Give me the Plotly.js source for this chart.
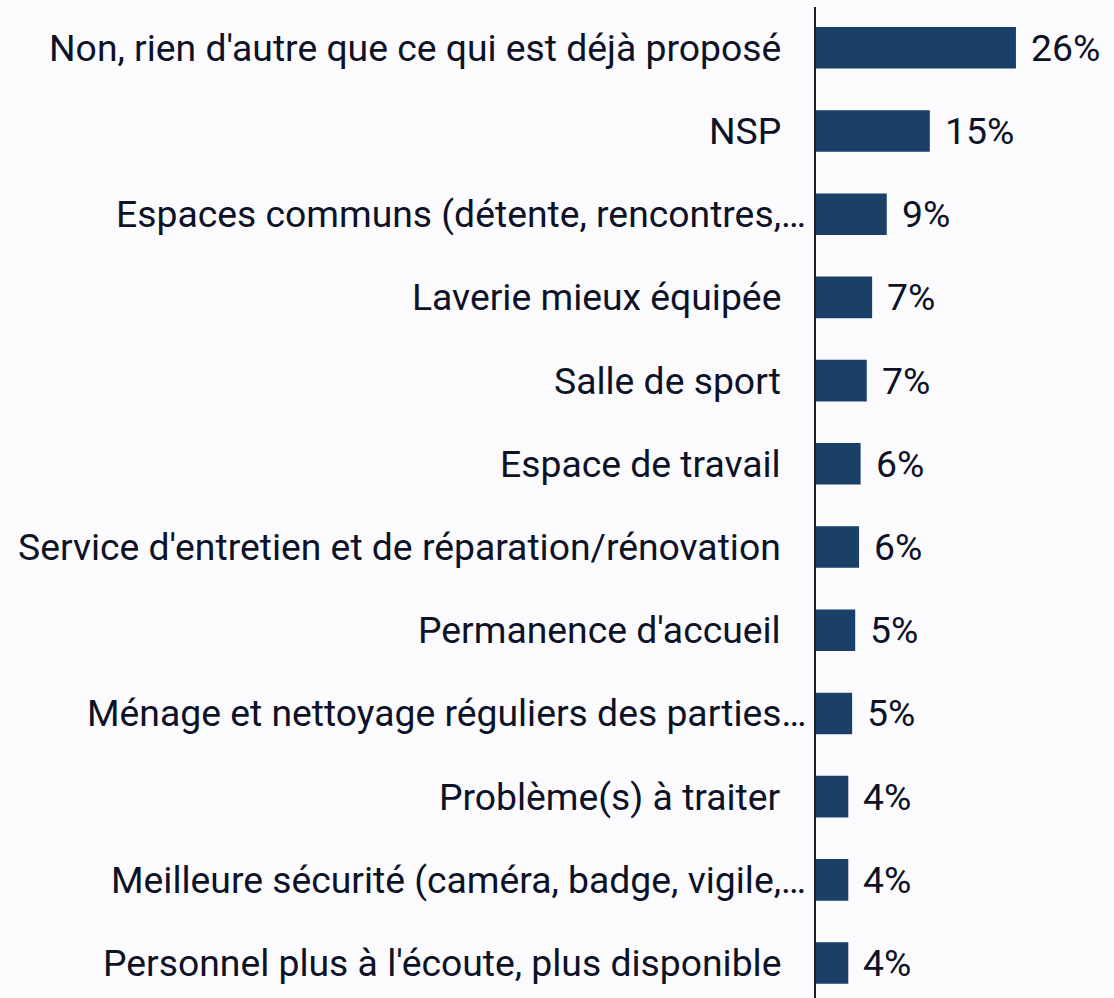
<!DOCTYPE html>
<html>
<head>
<meta charset="utf-8">
<script src="https://cdn.plot.ly/plotly-3.0.1.min.js"></script>
<style>
  html, body { margin: 0; padding: 0; background: #fbfbfe; }
  #chart { width: 1114px; height: 998px; }
</style>
</head>
<body>
<div id="chart"></div>
<script>
const categories = [
    "Non, rien d'autre que ce qui est déjà proposé",
    "NSP",
    "Espaces communs (détente, rencontres,…",
    "Laverie mieux équipée",
    "Salle de sport",
    "Espace de travail",
    "Service d'entretien et de réparation/rénovation",
    "Permanence d'accueil",
    "Ménage et nettoyage réguliers des parties…",
    "Problème(s) à traiter",
    "Meilleure sécurité (caméra, badge, vigile,…",
    "Personnel plus à l'écoute, plus disponible"
];
const values = [26.0, 14.8, 9.2, 7.3, 6.6, 5.8, 5.6, 5.1, 4.7, 4.2, 4.2, 4.2];
const valueLabels = ['26%', '15%', '9%', '7%', '7%', '6%', '6%', '5%', '5%', '4%', '4%', '4%'];

const textColor = '#0d1226';
const barColor = '#1b4068';
const fontSize = 37.3;

const trace = {
    type: 'bar',
    orientation: 'h',
    y: categories,
    x: values,
    marker: {color: barColor},
    hoverinfo: 'skip'
};

// value labels right of each bar
const valueAnn = values.map((v, i) => ({
    x: v,
    y: categories[i],
    text: valueLabels[i],
    xanchor: 'left',
    yanchor: 'middle',
    xshift: 13,
    showarrow: false,
    font: {family: 'Roboto', size: fontSize, color: textColor}
}));

// category labels: truncated ones (ending with an ellipsis) sit closer to the axis
const catAnn = categories.map(c => ({
    x: 0,
    y: c,
    text: c,
    xanchor: 'right',
    yanchor: 'middle',
    xshift: c.endsWith('…') ? -8 : -33,
    showarrow: false,
    font: {family: 'Roboto', size: fontSize, color: textColor}
}));

const layout = {
    width: 1114,
    height: 998,
    margin: {l: 816, r: 0, t: 7, b: 0},
    paper_bgcolor: '#fbfbfe',
    plot_bgcolor: '#fbfbfe',
    bargap: 0.5,
    showlegend: false,
    font: {family: 'Roboto', color: textColor},
    xaxis: {
        range: [0, 38.75],
        visible: false,
        fixedrange: true
    },
    yaxis: {
        type: 'category',
        range: [11.42, -0.49],
        showline: true,
        linecolor: '#1a1f2e',
        linewidth: 2,
        showgrid: false,
        zeroline: false,
        ticks: '',
        showticklabels: false,
        automargin: false,
        fixedrange: true
    },
    annotations: catAnn.concat(valueAnn)
};

Plotly.newPlot('chart', [trace], layout, {displayModeBar: false, staticPlot: true});
</script>
</body>
</html>
